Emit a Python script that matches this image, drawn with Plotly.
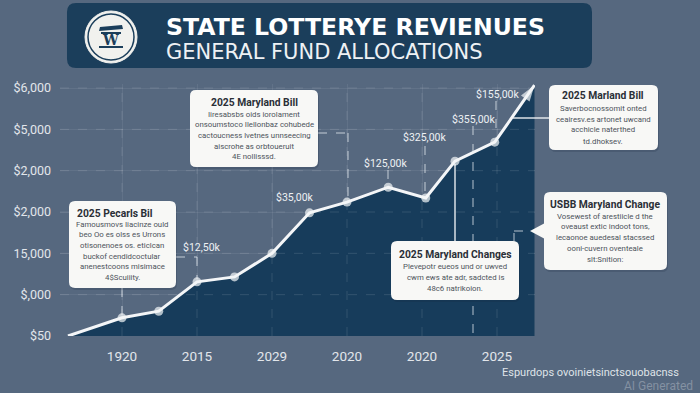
import plotly.graph_objects as go

W, H = 700, 393

# ---------------- data ----------------
x_pos = [0.28, 1.0, 1.49, 2.0, 2.5, 3.0, 3.5, 4.0, 4.55, 5.05, 5.44, 5.97, 6.5]
revenue = [0.0, 0.44, 0.6, 1.31, 1.43, 2.0, 2.98, 3.24, 3.6, 3.34, 4.23, 4.69, 6.07]

x_tickvals = [1, 2, 3, 4, 5, 6]
x_ticktext = ["1920", "2015", "2029", "2020", "2020", "2025"]
y_tickvals = [0, 1, 2, 3, 4, 5, 6]
y_ticktext = ["$50", "$,000", "15,000", "$2,000", "$2,000", "$5,000", "$6,000"]

value_labels = ["$35,00k", "$12,50k", "$125,00k", "$325,00k", "$355,00k", "$155,00k"]

title_text = "STATE LOTTERYE REVIENUES"
subtitle_text = "GENERAL FUND ALLOCATIONS"
footer_text = "Espurdops ovoinietsinctsouobacnss"

box_titles = ["2025 Maryland Bill", "2025 Pecarls Bil", "2025 Marland Bill",
              "USBB Maryland Change", "2025 Maryland Changes"]
box_bodies = [
    ["Iiresabsbs oids iorolament", "onsoumstoco Ilellonbaz cohubede",
     "cactoucness lvetnes unnseecing", "aiscrohe as orbtoueruit", "4E nollisssd."],
    ["Famousmovs Iiacinze ould", "beo Oo es olss es Urrons",
     "otisonenoes os. eticlcan", "buckof cendidcoctular",
     "anenestcoons misimace", "4$Scuiiity."],
    ["Saverbocnossomit onted", "ceairesv.es artonet uwcand",
     "acchicle naterthed", "td.dhoksev."],
    ["Vosewest of arestiicle d the", "oveaust extic indoot tons,",
     "lecaonoe auedesal stacssed", "ooni-cuvern oventeale", "slt:Snition:"],
    ["Plevepotr eueos und or uwved", "cwm ews ate adr, sadcted is",
     "48c6 natrikoion."],
]

# ---------------- layout helpers ----------------
BG = "#56687f"
NAVY = "#1b3e5b"
FILL = "#173c5b"
WHITE = "#f4f6f8"
AXIS_TXT = "#e2e6eb"
FONT = "Roboto, 'Open Sans', sans-serif"


def px(x):
    return x / W


def py(y):
    return 1 - y / H


def rrect_path(x0, y0, x1, y1, r):
    P = lambda a, b: f"{px(a):.5f},{py(b):.5f}"
    return (f"M {P(x0 + r, y0)} L {P(x1 - r, y0)} Q {P(x1, y0)} {P(x1, y0 + r)} "
            f"L {P(x1, y1 - r)} Q {P(x1, y1)} {P(x1 - r, y1)} L {P(x0 + r, y1)} "
            f"Q {P(x0, y1)} {P(x0, y1 - r)} L {P(x0, y0 + r)} Q {P(x0, y0)} {P(x0 + r, y0)} Z")


def poly_path(points):
    return "M " + " L ".join(f"{px(a):.5f},{py(b):.5f}" for a, b in points) + " Z"


# plot area in pixels
PL, PR, PT, PB = 60, 535, 84, 336
X_UNIT, Y_UNIT = 75.0, 41.33
x_range = [1 - (122 - PL) / X_UNIT, 1 + (PR - 122) / X_UNIT]
y_range = [0, (PB - PT) / Y_UNIT]

fig = go.Figure()

n = len(x_pos)
# area fill (clipped to plot area)
fig.add_trace(go.Scatter(
    x=x_pos, y=revenue, mode="none",
    fill="tozeroy", fillcolor=FILL,
    cliponaxis=True, hoverinfo="skip", showlegend=False,
))
# line + markers + arrow head
fig.add_trace(go.Scatter(
    x=x_pos, y=revenue, mode="lines+markers",
    line=dict(color=WHITE, width=3),
    marker=dict(color=WHITE, size=[9] * (n - 1) + [17],
                symbol=["circle"] * (n - 1) + ["arrow"],
                angleref="previous", line=dict(width=0)),
    cliponaxis=False, hoverinfo="skip", showlegend=False,
))

shapes = []
annotations = []

# grid (dashed, faint) drawn over the fill
for v in y_tickvals[1:]:
    shapes.append(dict(type="line", xref="x", yref="y", x0=x_range[0], x1=x_range[1],
                       y0=v, y1=v, layer="above",
                       line=dict(color="rgba(255,255,255,0.12)", width=1, dash="dash")))
for v in [1, 2, 3, 4, 5, 6]:
    shapes.append(dict(type="line", xref="x", yref="y", x0=v, x1=v,
                       y0=0, y1=y_range[1], layer="above",
                       line=dict(color="rgba(255,255,255,0.12)", width=1, dash="dash")))

# title banner
shapes.append(dict(type="path", path=rrect_path(67, 3, 592, 68, 9), xref="paper", yref="paper",
                   fillcolor=NAVY, line=dict(width=0), layer="below"))
# logo
cx, cy = 111, 37
shapes.append(dict(type="circle", xref="paper", yref="paper",
                   x0=px(cx - 26), x1=px(cx + 26), y0=py(cy + 26), y1=py(cy - 26),
                   fillcolor="#f1f1ee", line=dict(color="#f1f1ee", width=1)))
shapes.append(dict(type="circle", xref="paper", yref="paper",
                   x0=px(cx - 23), x1=px(cx + 23), y0=py(cy + 23), y1=py(cy - 23),
                   fillcolor="rgba(0,0,0,0)", line=dict(color=NAVY, width=1.5)))
shapes.append(dict(type="path", xref="paper", yref="paper",
                   path=poly_path([(99, 31), (123, 29), (122, 25), (100, 27)]),
                   fillcolor=NAVY, line=dict(width=0)))
shapes.append(dict(type="path", xref="paper", yref="paper",
                   path=poly_path([(101, 32), (121, 32), (121, 34), (101, 34)]),
                   fillcolor=NAVY, line=dict(width=0)))
shapes.append(dict(type="path", xref="paper", yref="paper",
                   path=poly_path([(99, 46), (123, 46), (123, 48), (99, 48)]),
                   fillcolor=NAVY, line=dict(width=0)))
annotations.append(dict(x=px(cx), y=py(40), xref="paper", yref="paper", text="<b>W</b>",
                        showarrow=False, font=dict(family="'DejaVu Serif', serif", size=14, color=NAVY),
                        xanchor="center", yanchor="middle"))

annotations.append(dict(x=px(164), y=py(27), xref="paper", yref="paper", text=f"<b>{title_text}</b>",
                        showarrow=False, font=dict(family="'DejaVu Sans', sans-serif", size=23.6, color="#ffffff"),
                        xanchor="left", yanchor="middle"))
annotations.append(dict(x=px(164), y=py(52), xref="paper", yref="paper", text=subtitle_text,
                        showarrow=False, font=dict(family="'DejaVu Sans', sans-serif", size=21, color="#eef1f4"),
                        xanchor="left", yanchor="middle"))


def seg(points, dash="dash", color="rgba(235,240,245,0.75)", width=1):
    for (a, b), (c, d) in zip(points[:-1], points[1:]):
        shapes.append(dict(type="line", xref="paper", yref="paper",
                           x0=px(a), y0=py(b), x1=px(c), y1=py(d), layer="above",
                           line=dict(color=color, width=width, dash=dash)))


# connectors
seg([(318, 133), (348, 133), (348, 200)])
seg([(176, 257), (197, 257), (197, 279)])
seg([(122, 288), (122, 315)])
seg([(388, 170), (388, 184)])
seg([(425, 146), (425, 195)])
seg([(473, 126), (473, 336)])
seg([(496, 101), (496, 139)])
seg([(514, 242), (514, 231), (531, 231)])
seg([(455, 164), (455, 241)], dash="solid", color="rgba(240,243,246,0.9)", width=1.5)
seg([(513, 118), (549, 118)], dash="solid", color="rgba(240,243,246,0.9)", width=1.5)

# boxes: (x0, y0, x1, y1, title_y, title_x, body_y0, line_h, body_x)
boxes = [
    (190, 90, 318, 167, 103, 254, 114, 10.7, 254),
    (69, 201, 176, 288, 213, 115, 224, 10.7, 122),
    (549, 85, 658, 150, 96, 603, 108, 11.0, 603),
    (544, 192, 667, 270, 204, 605, 216, 10.8, 605),
    (391, 241, 519, 300, 254, 455, 266, 11.0, 455),
]
for i, (x0, y0, x1, y1, ty, tx, by, lh, bx) in enumerate(boxes):
    shapes.append(dict(type="path", path=rrect_path(x0 + 1, y0 + 2, x1 + 1, y1 + 2, 6),
                       xref="paper", yref="paper", fillcolor="rgba(20,35,55,0.18)",
                       line=dict(width=0), layer="above"))
    shapes.append(dict(type="path", path=rrect_path(x0, y0, x1, y1, 6),
                       xref="paper", yref="paper", fillcolor="#f8f8f6",
                       line=dict(width=0), layer="above"))
    annotations.append(dict(x=px(tx), y=py(ty), xref="paper", yref="paper",
                            text=f"<b>{box_titles[i]}</b>", showarrow=False,
                            font=dict(family=FONT, size=10.3, color="#2a2f36"),
                            xanchor="center", yanchor="middle"))
    for k, line in enumerate(box_bodies[i]):
        annotations.append(dict(x=px(bx), y=py(by + k * lh), xref="paper", yref="paper",
                                text=line, showarrow=False,
                                font=dict(family=FONT, size=7.8, color="#4d535b"),
                                xanchor="center", yanchor="middle"))
# pointer triangle for USBB box
shapes.append(dict(type="path", xref="paper", yref="paper",
                   path=poly_path([(545, 223), (530, 231), (545, 239)]),
                   fillcolor="#f8f8f6", line=dict(width=0), layer="above"))

# value labels
label_pos = [(295, 198), (202, 247), (385, 164), (425, 138), (473, 119), (497, 94)]
for txt, (lx, ly) in zip(value_labels, label_pos):
    annotations.append(dict(x=px(lx), y=py(ly), xref="paper", yref="paper", text=txt,
                            showarrow=False, font=dict(family=FONT, size=10.5, color="#eef1f4"),
                            xanchor="center", yanchor="middle"))

# footer
annotations.append(dict(x=px(681), y=py(372), xref="paper", yref="paper", text=footer_text,
                        showarrow=False, font=dict(family=FONT, size=11, color="#dfe3e8"),
                        xanchor="right", yanchor="middle"))
annotations.append(dict(x=px(695), y=py(386), xref="paper", yref="paper", text="AI Generated",
                        showarrow=False, font=dict(family=FONT, size=12, color="rgba(255,255,255,0.28)"),
                        xanchor="right", yanchor="middle"))

fig.update_layout(
    width=W, height=H, autosize=False,
    margin=dict(l=0, r=0, t=0, b=0),
    paper_bgcolor=BG, plot_bgcolor="rgba(0,0,0,0)",
    showlegend=False,
    shapes=shapes, annotations=annotations,
    font=dict(family=FONT, color=AXIS_TXT),
    xaxis=dict(domain=[px(PL), px(PR)], range=x_range, tickvals=x_tickvals, ticktext=x_ticktext,
               showgrid=True, gridcolor="rgba(255,255,255,0.07)", zeroline=False, showline=False,
               ticks="", ticklabelstandoff=10, tickfont=dict(size=13.5, color=AXIS_TXT),
               automargin=False, fixedrange=True),
    yaxis=dict(domain=[1 - PB / H, 1 - PT / H], range=y_range, tickvals=y_tickvals, ticktext=y_ticktext,
               showgrid=True, gridcolor="rgba(255,255,255,0.07)", zeroline=False, showline=False,
               ticks="", ticklabelstandoff=8, tickfont=dict(size=12.5, color=AXIS_TXT),
               automargin=False, fixedrange=True),
)

fig.write_html(
    "out.html",
    config={"displayModeBar": False, "staticPlot": True},
    post_script="document.body.style.margin='0';document.body.style.background='" + BG + "';",
)
